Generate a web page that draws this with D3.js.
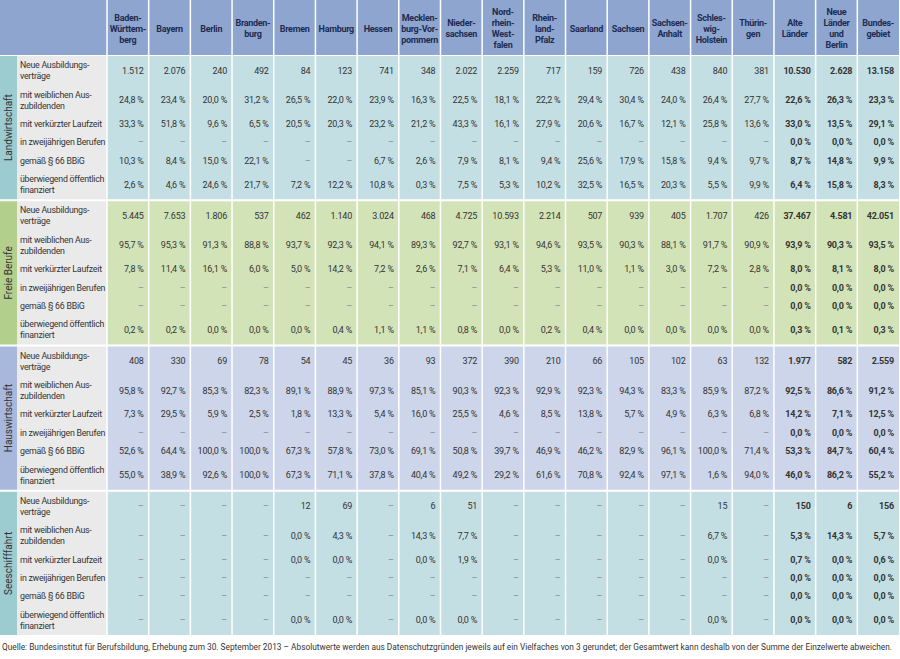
<!DOCTYPE html>
<html><head><meta charset="utf-8">
<script src="https://cdn.jsdelivr.net/npm/d3@7"></script>
<style>
body{margin:0;background:#fff}
text{font-family:"Roboto",sans-serif}
</style></head>
<body><svg id="c" width="900" height="659"></svg>
<script>
// columns
const columns = ["Baden-|Württem-|berg","Bayern","Berlin","Branden-|burg","Bremen","Hamburg","Hessen","Mecklen-|burg-Vor-|pommern","Nieder-|sachsen","Nord-|rhein-|West-|falen","Rhein-|land-|Pfalz","Saarland","Sachsen","Sachsen-|Anhalt","Schles-|wig-|Holstein","Thürin-|gen","Alte|Länder","Neue|Länder|und|Berlin","Bundes-|gebiet"];
const boldFrom = 16;
const rowLabels = ["Neue Ausbildungs-|verträge","mit weiblichen Aus-|zubildenden","mit verkürzter Laufzeit","in zweijährigen Berufen","gemäß § 66 BBiG","überwiegend öffentlich|finanziert"];
const sections = ["Landwirtschaft","Freie Berufe","Hauswirtschaft","Seeschifffahrt"];
const D = "–";
const landwirtschaft = [
  ["1.512","2.076","240","492","84","123","741","348","2.022","2.259","717","159","726","438","840","381","10.530","2.628","13.158"],
  ["24,8 %","23,4 %","20,0 %","31,2 %","26,5 %","22,0 %","23,9 %","16,3 %","22,5 %","18,1 %","22,2 %","29,4 %","30,4 %","24,0 %","26,4 %","27,7 %","22,6 %","26,3 %","23,3 %"],
  ["33,3 %","51,8 %","9,6 %","6,5 %","20,5 %","20,3 %","23,2 %","21,2 %","43,3 %","16,1 %","27,9 %","20,6 %","16,7 %","12,1 %","25,8 %","13,6 %","33,0 %","13,5 %","29,1 %"],
  [D,D,D,D,D,D,D,D,D,D,D,D,D,D,D,D,"0,0 %","0,0 %","0,0 %"],
  ["10,3 %","8,4 %","15,0 %","22,1 %",D,D,"6,7 %","2,6 %","7,9 %","8,1 %","9,4 %","25,6 %","17,9 %","15,8 %","9,4 %","9,7 %","8,7 %","14,8 %","9,9 %"],
  ["2,6 %","4,6 %","24,6 %","21,7 %","7,2 %","12,2 %","10,8 %","0,3 %","7,5 %","5,3 %","10,2 %","32,5 %","16,5 %","20,3 %","5,5 %","9,9 %","6,4 %","15,8 %","8,3 %"]
];
const freieBerufe = [
  ["5.445","7.653","1.806","537","462","1.140","3.024","468","4.725","10.593","2.214","507","939","405","1.707","426","37.467","4.581","42.051"],
  ["95,7 %","95,3 %","91,3 %","88,8 %","93,7 %","92,3 %","94,1 %","89,3 %","92,7 %","93,1 %","94,6 %","93,5 %","90,3 %","88,1 %","91,7 %","90,9 %","93,9 %","90,3 %","93,5 %"],
  ["7,8 %","11,4 %","16,1 %","6,0 %","5,0 %","14,2 %","7,2 %","2,6 %","7,1 %","6,4 %","5,3 %","11,0 %","1,1 %","3,0 %","7,2 %","2,8 %","8,0 %","8,1 %","8,0 %"],
  [D,D,D,D,D,D,D,D,D,D,D,D,D,D,D,D,"0,0 %","0,0 %","0,0 %"],
  [D,D,D,D,D,D,D,D,D,D,D,D,D,D,D,D,"0,0 %","0,0 %","0,0 %"],
  ["0,2 %","0,2 %","0,0 %","0,0 %","0,0 %","0,4 %","1,1 %","1,1 %","0,8 %","0,0 %","0,2 %","0,4 %","0,0 %","0,0 %","0,0 %","0,0 %","0,3 %","0,1 %","0,3 %"]
];
const hauswirtschaft = [
  ["408","330","69","78","54","45","36","93","372","390","210","66","105","102","63","132","1.977","582","2.559"],
  ["95,8 %","92,7 %","85,3 %","82,3 %","89,1 %","88,9 %","97,3 %","85,1 %","90,3 %","92,3 %","92,9 %","92,3 %","94,3 %","83,3 %","85,9 %","87,2 %","92,5 %","86,6 %","91,2 %"],
  ["7,3 %","29,5 %","5,9 %","2,5 %","1,8 %","13,3 %","5,4 %","16,0 %","25,5 %","4,6 %","8,5 %","13,8 %","5,7 %","4,9 %","6,3 %","6,8 %","14,2 %","7,1 %","12,5 %"],
  [D,D,D,D,D,D,D,D,D,D,D,D,D,D,D,D,"0,0 %","0,0 %","0,0 %"],
  ["52,6 %","64,4 %","100,0 %","100,0 %","67,3 %","57,8 %","73,0 %","69,1 %","50,8 %","39,7 %","46,9 %","46,2 %","82,9 %","96,1 %","100,0 %","71,4 %","53,3 %","84,7 %","60,4 %"],
  ["55,0 %","38,9 %","92,6 %","100,0 %","67,3 %","71,1 %","37,8 %","40,4 %","49,2 %","29,2 %","61,6 %","70,8 %","92,4 %","97,1 %","1,6 %","94,0 %","46,0 %","86,2 %","55,2 %"]
];
const seeschifffahrt = [
  [D,D,D,D,"12","69",D,"6","51",D,D,D,D,D,"15",D,"150","6","156"],
  [D,D,D,D,"0,0 %","4,3 %",D,"14,3 %","7,7 %",D,D,D,D,D,"6,7 %",D,"5,3 %","14,3 %","5,7 %"],
  [D,D,D,D,"0,0 %","0,0 %",D,"0,0 %","1,9 %",D,D,D,D,D,"0,0 %",D,"0,7 %","0,0 %","0,6 %"],
  [D,D,D,D,D,D,D,D,D,D,D,D,D,D,D,D,"0,0 %","0,0 %","0,0 %"],
  [D,D,D,D,D,D,D,D,D,D,D,D,D,D,D,D,"0,0 %","0,0 %","0,0 %"],
  [D,D,D,D,"0,0 %","0,0 %",D,"0,0 %","0,0 %",D,D,D,D,D,"0,0 %",D,"0,0 %","0,0 %","0,0 %"]
];
const sectionValues = [landwirtschaft, freieBerufe, hauswirtschaft, seeschifffahrt];
const source = "Quelle: Bundesinstitut für Berufsbildung, Erhebung zum 30. September 2013 – Absolutwerte werden aus Datenschutzgründen jeweils auf ein Vielfaches von 3 gerundet; der Gesamtwert kann deshalb von der Summe der Einzelwerte abweichen.";

const theme = [
  {band:"#9ccbd0", cell:"#c4dfe3"},
  {band:"#b3cf8c", cell:"#d3e3b8"},
  {band:"#a8b7dc", cell:"#ccd5e9"},
  {band:"#9ccbd0", cell:"#c4dfe3"}
];

const svg = d3.select("#c");
const x = d3.scaleBand().domain(d3.range(columns.length)).range([107, 899]).paddingInner(0);
const sectionY = d3.scaleBand().domain(d3.range(sections.length)).range([56, 635]).paddingInner(0.014);
// row weights: two-line rows are taller
const weights = [1.6, 1.6, 1, 1, 1, 1.6];
const cum = [0, ...d3.cumsum(weights)];
const rowY = d3.scaleLinear().domain([0, cum[cum.length-1]]).range([0, sectionY.bandwidth()]);

// header
svg.append("rect").attr("x",0).attr("y",0).attr("width",899).attr("height",55).attr("fill","#8ea6cf");
const head = svg.append("g");
columns.forEach((c, i) => {
  const lines = c.split("|");
  const t = head.append("text").attr("x", x(i)+x.bandwidth()/2).attr("text-anchor","middle")
    .attr("font-size",9).attr("letter-spacing",-0.3).attr("font-weight","bold").attr("fill","#1d2b52");
  lines.forEach((l, k) => t.append("tspan").attr("x", x(i)+x.bandwidth()/2)
    .attr("y", 28 + (k - (lines.length-1)/2)*11 + 3.5).text(l));
});

sections.forEach((s, si) => {
  const y0 = sectionY(si), h = sectionY.bandwidth();
  const g = svg.append("g");
  g.append("rect").attr("x",0).attr("y",y0).attr("width",17).attr("height",h).attr("fill",theme[si].band);
  g.append("rect").attr("x",17).attr("y",y0).attr("width",90).attr("height",h).attr("fill","#eaeaea");
  g.append("rect").attr("x",107).attr("y",y0).attr("width",792).attr("height",h).attr("fill",theme[si].cell);
  g.append("text").attr("transform",`translate(12,${y0+h/2}) rotate(-90)`).attr("text-anchor","middle")
    .attr("font-size",10).attr("fill","#333").text(s);
  rowLabels.forEach((rl, ri) => {
    const cy = y0 + rowY((cum[ri]+cum[ri+1])/2);
    const lines = rl.split("|");
    const t = g.append("text").attr("font-size",8.8).attr("letter-spacing",-0.25).attr("fill","#333");
    lines.forEach((l,k) => t.append("tspan").attr("x",20).attr("y", cy + (k-(lines.length-1)/2)*11 + 3).text(l));
    sectionValues[si][ri].forEach((v, ci) => {
      g.append("text").attr("x", x(ci)+x.bandwidth()-5).attr("y", cy+3)
        .attr("text-anchor","end").attr("font-size",9).attr("letter-spacing",-0.2)
        .attr("font-weight", ci>=boldFrom ? "bold" : "normal")
        .attr("fill", v===D ? "#888" : "#333").text(v);
    });
  });
});

// separators
svg.append("g").selectAll("line").data(d3.range(1, columns.length)).join("line")
  .attr("x1", i => x(i)).attr("x2", i => x(i)).attr("y1",0).attr("y2",635)
  .attr("stroke","#fff").attr("stroke-width",1.5);
svg.append("line").attr("x1",107).attr("x2",107).attr("y1",0).attr("y2",635).attr("stroke","#fff").attr("stroke-width",1.5);

svg.append("text").attr("x",2).attr("y",650).attr("font-size",8.6)
  .attr("textLength",890).attr("lengthAdjust","spacingAndGlyphs").attr("fill","#333").text(source);
</script></body></html>
